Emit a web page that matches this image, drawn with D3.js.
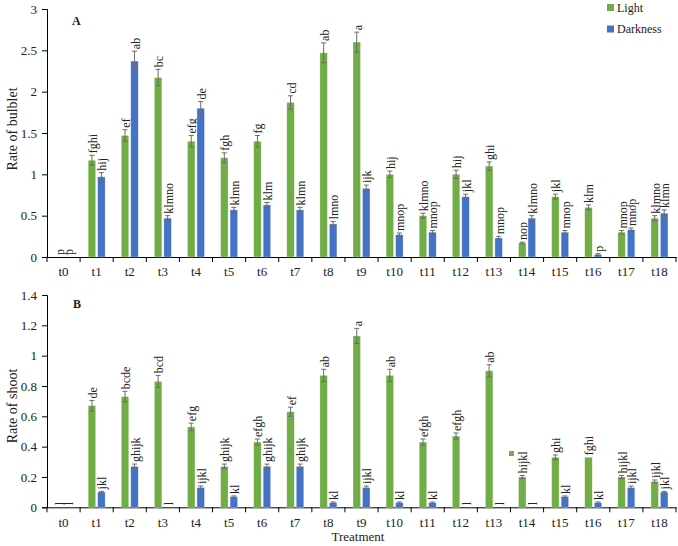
<!DOCTYPE html>
<html><head><meta charset="utf-8">
<script src="https://cdn.jsdelivr.net/npm/d3@7"></script>
<style>body{margin:0;background:#fff}svg{display:block}text{font-family:"Liberation Serif","Times New Roman",serif;fill:#222}</style>
</head><body><svg id="c" width="678" height="546"></svg>
<script>
const categories = ["t0","t1","t2","t3","t4","t5","t6","t7","t8","t9","t10","t11","t12","t13","t14","t15","t16","t17","t18"];
const seriesNames = ["Light","Darkness"];
// Panel A: rate of bulblet
const bulbLight    = [0,1.17,1.47,2.17,1.40,1.20,1.40,1.87,2.47,2.60,1.00,0.50,1.00,1.10,0.17,0.73,0.60,0.30,0.47];
const bulbLightErr = [0,0.06,0.07,0.10,0.07,0.06,0.07,0.08,0.12,0.12,0.04,0.03,0.05,0.05,0.01,0.03,0.03,0.02,0.03];
const bulbDark     = [0,0.97,2.37,0.47,1.80,0.57,0.63,0.57,0.40,0.83,0.27,0.30,0.73,0.23,0.47,0.30,0.03,0.33,0.53];
const bulbDarkErr  = [0,0.05,0.12,0.03,0.08,0.03,0.03,0.03,0.03,0.04,0.02,0.02,0.03,0.02,0.03,0.02,0.01,0.02,0.04];
const bulbLightLbl = ["p","fghi","ef","bc","efg","fgh","fg","cd","ab","a","hij","klmno","hij","ghi","nop","jkl","klm","mnop","klmno"];
const bulbDarkLbl  = ["p","hij","ab","klmno","de","klmn","klm","klmn","lmno","ijk","mnop","mnop","jkl","mnop","klmno","mnop","p","mnop","klmn"];
const bulbTicks = [0,0.5,1,1.5,2,2.5,3];
// Panel B: rate of shoot
const shootLight    = [0,0.67,0.73,0.83,0.53,0.27,0.43,0.63,0.87,1.13,0.87,0.43,0.47,0.90,0.20,0.33,0.33,0.20,0.17];
const shootLightErr = [0,0.035,0.035,0.04,0.025,0.015,0.02,0.03,0.04,0.05,0.04,0.02,0.02,0.04,0.01,0.015,0,0.01,0.01];
const shootDark     = [0,0.10,0.27,0,0.13,0.07,0.27,0.27,0.03,0.13,0.03,0.03,0,0,0,0.07,0.03,0.13,0.10];
const shootDarkErr  = [0,0.005,0.015,0,0.01,0.005,0.015,0.015,0.005,0.01,0.005,0.005,0,0,0,0.005,0.005,0.01,0.005];
const shootLightLbl = ["l","de","bcde","bcd","efg","ghijk","efgh","ef","ab","a","ab","efgh","efgh","ab","hijkl","ghi","fghi","hijkl","ijkl"];
const shootDarkLbl  = ["l","jkl","ghijk","l","ijkl","kl","ghijk","ghijk","kl","ijkl","kl","kl","l","l","l","kl","kl","ijkl","jkl"];
const shootTicks = [0,0.2,0.4,0.6,0.8,1,1.2,1.4];

const colors = ["#70AD47","#4472C4"];
const svg = d3.select("#c");
const x = d3.scaleBand().domain(categories).range([47, 676]).padding(0);
const barW = 7.5;

function panel(cfg){
  const y = d3.scaleLinear().domain(cfg.domain).range(cfg.range);
  const g = svg.append("g");
  // y axis
  g.append("g").attr("transform","translate(47,0)")
    .call(d3.axisLeft(y).tickValues(cfg.ticks).tickSize(5).tickPadding(5).tickFormat(d3.format("")))
    .call(a=>{a.select(".domain").attr("stroke","#000");a.selectAll(".tick line").attr("stroke","#000");
      a.selectAll("text").style("font-size","13px").attr("font-family",null);});
  // x axis labels
  const y0 = y(0);
  g.append("g").attr("transform",`translate(0,${y0})`)
    .call(d3.axisBottom(x).tickSize(0).tickPadding(10))
    .call(a=>{a.select(".domain").attr("stroke","#000");
      a.selectAll("text").style("font-size","13px").attr("font-family",null);});
  // boundary ticks
  const bounds = categories.map(c=>x(c)).concat([x.range()[1]]);
  g.selectAll(".bt").data(bounds).join("line")
    .attr("x1",d=>d).attr("x2",d=>d).attr("y1",y0).attr("y2",y0+5).attr("stroke","#000");
  const series = [
    {vals:cfg.light, err:cfg.lightErr, lbl:cfg.lightLbl, off:-8.5, col:colors[0]},
    {vals:cfg.dark, err:cfg.darkErr, lbl:cfg.darkLbl, off:1, col:colors[1]}
  ];
  series.forEach(s=>{
    const cx = (i)=>x(categories[i]) + x.bandwidth()/2 + s.off;
    const idx = d3.range(categories.length);
    g.selectAll(null).data(idx.filter(i=>s.vals[i]>0)).join("rect")
      .attr("x",i=>cx(i)).attr("width",barW)
      .attr("y",i=>y(s.vals[i])).attr("height",i=>y0-y(s.vals[i]))
      .attr("fill",s.col).attr("stroke","#fff").attr("stroke-opacity",0.5).attr("stroke-width",0.6);
    const eb = idx.filter(i=>s.err[i]>0);
    const ec = "#6b6b6b";
    g.selectAll(null).data(eb).join("line")
      .attr("x1",i=>cx(i)+barW/2).attr("x2",i=>cx(i)+barW/2)
      .attr("y1",i=>y(s.vals[i]-s.err[i])).attr("y2",i=>y(s.vals[i]+s.err[i]))
      .attr("stroke",ec).attr("stroke-width",1);
    ["+","-"].forEach(sg=>{
      g.selectAll(null).data(eb).join("line")
        .attr("x1",i=>cx(i)+barW/2-2.5).attr("x2",i=>cx(i)+barW/2+2.5)
        .attr("y1",i=>y(s.vals[i]+(sg==="+"?1:-1)*s.err[i])).attr("y2",i=>y(s.vals[i]+(sg==="+"?1:-1)*s.err[i]))
        .attr("stroke",ec).attr("stroke-width",1);
    });
    g.selectAll(null).data(idx).join("text")
      .attr("transform",i=>`translate(${cx(i)+barW/2+5},${y(s.vals[i]+s.err[i])-2}) rotate(-90)`)
      .style("font-size","12px").text(i=>s.lbl[i]);
  });
  g.append("text").attr("x",cfg.letterX).attr("y",cfg.letterY)
    .style("font-size","12px").style("font-weight","bold").text(cfg.letter);
  g.append("text").attr("transform",`translate(17,${cfg.titleY}) rotate(-90)`)
    .attr("text-anchor","middle").style("font-size","14px").text(cfg.title);
  return y;
}

panel({domain:[0,3], range:[257,9], ticks:bulbTicks, light:bulbLight, lightErr:bulbLightErr, dark:bulbDark, darkErr:bulbDarkErr,
  lightLbl:bulbLightLbl, darkLbl:bulbDarkLbl, letter:"A", letterX:72, letterY:25, title:"Rate of bulblet", titleY:129});
panel({domain:[0,1.4], range:[507.3,295], ticks:shootTicks, light:shootLight, lightErr:shootLightErr, dark:shootDark, darkErr:shootDarkErr,
  lightLbl:shootLightLbl, darkLbl:shootDarkLbl, letter:"B", letterX:73, letterY:308, title:"Rate of shoot", titleY:406});

svg.append("text").attr("x",358).attr("y",541).attr("text-anchor","middle").style("font-size","13px").text("Treatment");

// legend
const lg = svg.append("g");
seriesNames.forEach((n,i)=>{
  lg.append("rect").attr("x",607).attr("y",4+i*21.5).attr("width",7).attr("height",7).attr("fill",colors[i]);
  lg.append("text").attr("x",617).attr("y",11.5+i*21.5).style("font-size","12px").text(n);
});
// stray marker in panel B
svg.append("rect").attr("x",509).attr("y",451).attr("width",5).attr("height",5).attr("fill",colors[0]);
</script></body></html>
